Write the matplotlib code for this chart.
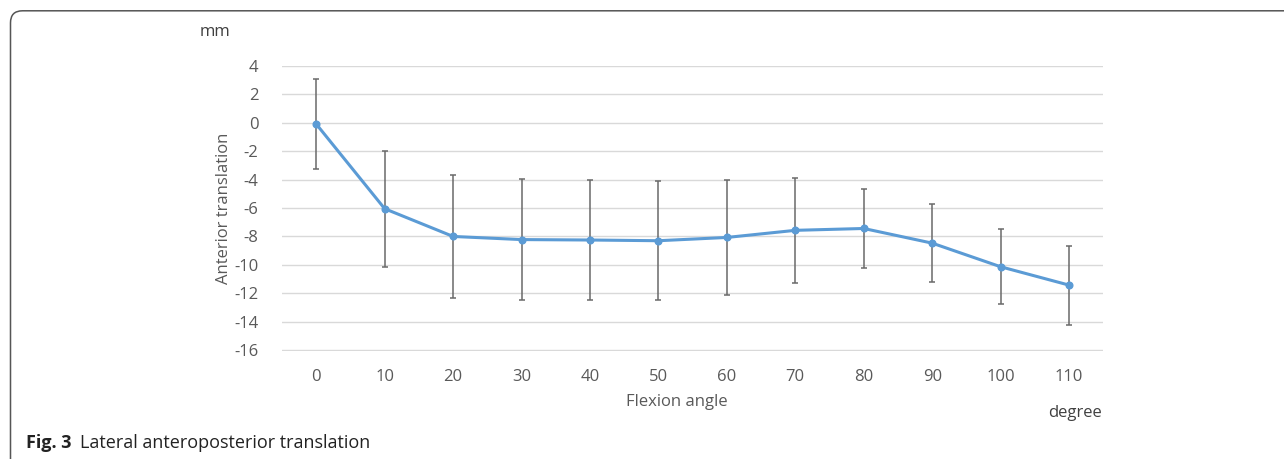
import matplotlib
matplotlib.use("Agg")
import matplotlib.pyplot as plt
from matplotlib.path import Path
from matplotlib.patches import PathPatch

angles = ["0", "10", "20", "30", "40", "50", "60", "70", "80", "90", "100", "110"]
means = [-0.1, -6.05, -8.0, -8.22, -8.25, -8.3, -8.07, -7.57, -7.44, -8.47, -10.13, -11.42]
errors = [3.15, 4.08, 4.3, 4.27, 4.25, 4.2, 4.05, 3.68, 2.77, 2.72, 2.65, 2.77]
yticks = list(range(-16, 5, 2))

plt.rcParams['font.family'] = ['Open Sans', 'DejaVu Sans']

W, H = 1284, 459
fig = plt.figure(figsize=(W / 100, H / 100), dpi=100)

# frame: left and top edges with rounded top-left corner (pixel coords, y from top)
r = 12
xl, yt = 10.5, 10.8
verts = [(xl, H + 5), (xl, yt + r), (xl, yt), (xl + r, yt), (W + 5, yt)]
codes = [Path.MOVETO, Path.LINETO, Path.CURVE3, Path.CURVE3, Path.LINETO]
verts_fig = [(vx / W, 1 - vy / H) for vx, vy in verts]
frame = PathPatch(Path(verts_fig, codes), transform=fig.transFigure, fill=False,
                  edgecolor="#555555", linewidth=1.1)
fig.patches.append(frame)

ax = fig.add_axes([282 / W, 1 - 351 / H, (1103.3 - 282) / W, (351 - 65.7) / H])
x = list(range(len(angles)))
ax.errorbar(x, means, yerr=errors, fmt='none', ecolor="#6a6a6a", elinewidth=1.1,
            capsize=2.5, capthick=1.1, zorder=2)
ax.plot(x, means, color="#5B9BD5", linewidth=2.2, marker='o', markersize=4.8, zorder=3)

ax.set_xlim(-0.5, len(angles) - 0.5)
ax.set_ylim(-16.05, 4)
ax.set_yticks(yticks)
ax.set_yticklabels([str(v) for v in yticks])
ax.set_xticks(x)
ax.set_xticklabels(angles)
ax.grid(axis='y', color="#D9D9D9", linewidth=1.0)
ax.set_axisbelow(True)
for s in ax.spines.values():
    s.set_visible(False)
ax.tick_params(axis='both', length=0, labelsize=12, colors="#595959")
ax.tick_params(axis='y', pad=17)
ax.tick_params(axis='x', pad=13)

fig.text(224 / W, 1 - 208 / H, "Anterior translation", rotation=90, ha='center', va='center',
         fontsize=12, color="#595959")
fig.text(677 / W, 1 - 402 / H, "Flexion angle", ha='center', va='center',
         fontsize=12, color="#595959")
fig.text(215 / W, 1 - 32 / H, "mm", ha='center', va='center', fontsize=12, color="#404040")
fig.text(1075 / W, 1 - 413 / H, "degree", ha='center', va='center', fontsize=12, color="#404040")

t1 = fig.text(26 / W, 1 - 443 / H, "Fig. 3", ha='left', va='center', fontsize=13,
              fontweight='bold', color="#222222")
fig.canvas.draw()
bb = t1.get_window_extent()
fig.text((bb.x1 + 9) / W, 1 - 443 / H, "Lateral anteroposterior translation", ha='left',
         va='center', fontsize=13, color="#222222")

fig.savefig("out.png", dpi=100)
